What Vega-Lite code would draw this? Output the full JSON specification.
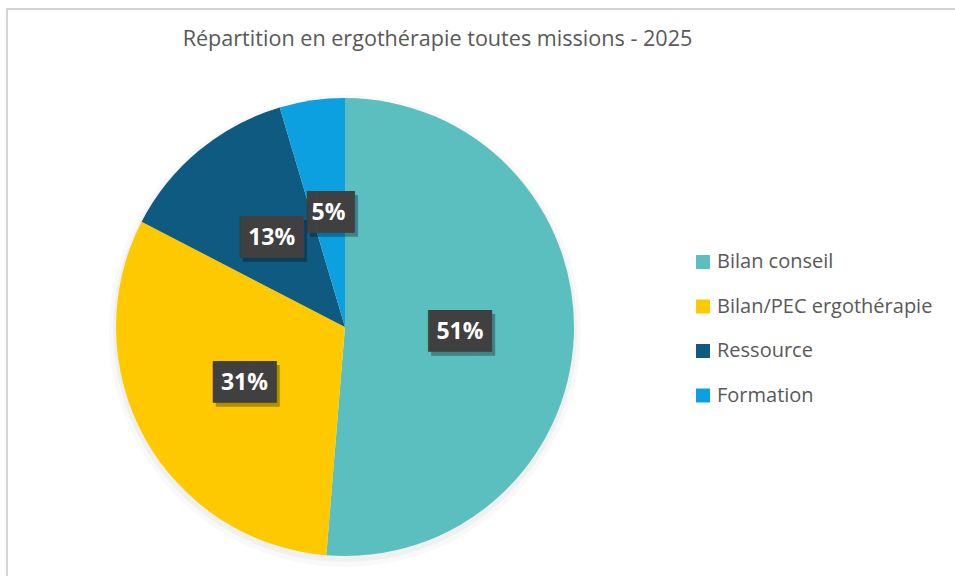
{
  "$schema": "https://vega.github.io/schema/vega-lite/v6.json",
  "width": 951,
  "height": 571,
  "autosize": {"type": "none"},
  "padding": {"left": 7, "top": 9, "right": 0, "bottom": 0},
  "background": "white",
  "view": {"stroke": "#c8c8c8", "strokeWidth": 1.5},
  "title": {
    "text": "Répartition en ergothérapie toutes missions - 2025",
    "font": "Open Sans",
    "fontSize": 21.6,
    "fontWeight": "normal",
    "color": "#595959",
    "anchor": "middle",
    "frame": "group",
    "orient": "top",
    "baseline": "alphabetic",
    "offset": 0,
    "dy": 59,
    "dx": -45
  },
  "data": {
    "values": [
      {"mission": "Bilan conseil", "part": 51.3, "label": "51%", "ordre": 1},
      {"mission": "Bilan/PEC ergothérapie", "part": 31.3, "label": "31%", "ordre": 2},
      {"mission": "Ressource", "part": 12.8, "label": "13%", "ordre": 3},
      {"mission": "Formation", "part": 4.6, "label": "5%", "ordre": 4}
    ]
  },
  "encoding": {
    "theta": {"field": "part", "type": "quantitative", "stack": true},
    "order": {"field": "ordre", "type": "quantitative"},
    "x": {"value": 338},
    "y": {"value": 318}
  },
  "layer": [
    {
      "mark": {"type": "arc", "outerRadius": 236, "color": "#000000", "opacity": 0.025},
      "encoding": {"y": {"value": 322}}
    },
    {
      "mark": {"type": "arc", "outerRadius": 232, "color": "#000000", "opacity": 0.035},
      "encoding": {"y": {"value": 321}}
    },
    {
      "mark": {"type": "arc", "outerRadius": 229},
      "encoding": {
        "color": {
          "field": "mission",
          "type": "nominal",
          "scale": {
            "domain": ["Bilan conseil", "Bilan/PEC ergothérapie", "Ressource", "Formation"],
            "range": ["#5BBFBF", "#FFC900", "#0E5A80", "#0DA0E0"]
          },
          "legend": {
            "orient": "none",
            "legendX": 686,
            "legendY": 243,
            "title": null,
            "symbolType": "square",
            "symbolSize": 196,
            "symbolStrokeWidth": 0,
            "symbolOpacity": 1,
            "labelFont": "Open Sans",
            "labelFontSize": 20,
            "labelColor": "#595959",
            "labelOffset": 4,
            "rowPadding": 24.5,
            "labelLimit": 400
          }
        }
      }
    },
    {
      "mark": {"type": "text", "radius": 115, "font": "DejaVu Sans Mono", "fontSize": 35, "color": "#000000", "opacity": 0.3, "dx": 3, "dy": 4, "align": "center", "baseline": "middle"},
      "encoding": {"text": {"condition": {"test": "datum.label === '5%'", "value": "▐█▊"}, "value": "███"}}
    },
    {
      "mark": {"type": "text", "radius": 115, "font": "DejaVu Sans Mono", "fontSize": 35, "color": "#404040", "align": "center", "baseline": "middle"},
      "encoding": {"text": {"condition": {"test": "datum.label === '5%'", "value": "▐█▊"}, "value": "███"}}
    },
    {
      "mark": {"type": "text", "radius": 115, "font": "Open Sans", "fontWeight": "bold", "fontSize": 23, "color": "#ffffff", "align": "center", "baseline": "middle"},
      "encoding": {"text": {"field": "label", "type": "nominal"}}
    }
  ]
}
